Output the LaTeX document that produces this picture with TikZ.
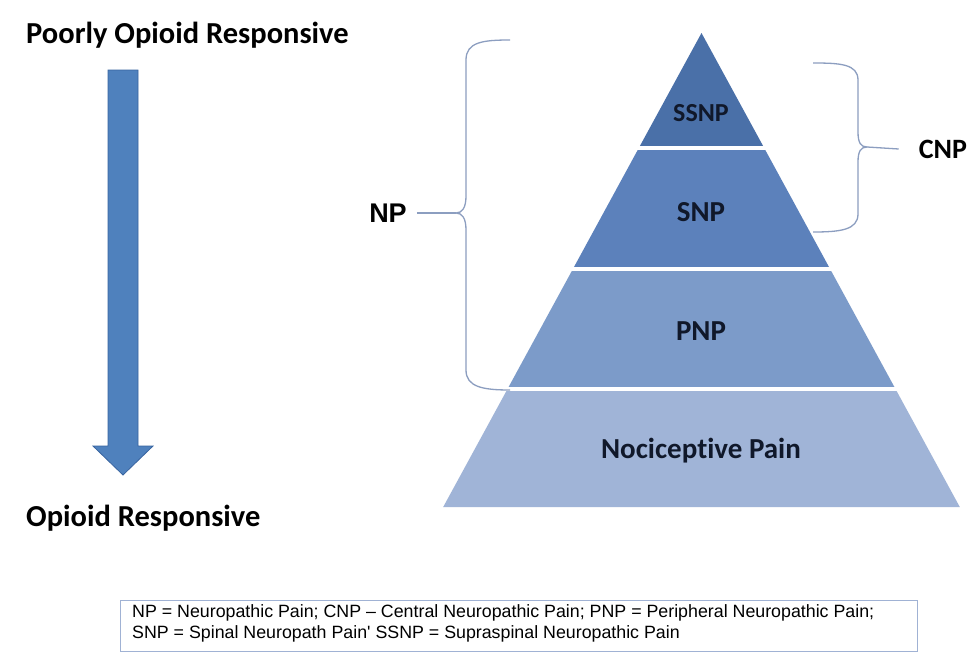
\documentclass[tikz,border=0pt]{standalone}
\usepackage{fontspec}
\setmainfont{Carlito}[Ligatures={TeX,NoCommon}]
\newfontfamily\arialfont{Liberation Sans}
\usetikzlibrary{calc}

\definecolor{ssnpfill}{RGB}{74,112,168}
\definecolor{snpfill}{RGB}{92,129,187}
\definecolor{pnpfill}{RGB}{124,155,201}
\definecolor{nocifill}{RGB}{160,180,215}
\definecolor{arrowfill}{RGB}{79,129,189}
\definecolor{arrowline}{RGB}{56,100,160}
\definecolor{bracecol}{RGB}{140,158,192}
\definecolor{labeltext}{RGB}{16,24,42}
\definecolor{legendline}{RGB}{160,178,212}

\tikzset{
  layer/.style={draw=none},
  gapline/.style={draw=white, line width=4pt},
  layerlabel/.style={text=labeltext, font=\bfseries\fontsize{29}{34}\selectfont, inner sep=0pt},
  headline/.style={text=black, font=\bfseries\fontsize{30.5}{36}\selectfont, inner sep=0pt, anchor=west},
  bracket/.style={draw=bracecol, line width=1.3pt, line join=round},
  sidelabel/.style={text=black, inner sep=0pt},
}

\begin{document}
\begin{tikzpicture}[x=1pt, y=-1pt]
  \useasboundingbox (0,0) rectangle (978,653);
  \fill[white] (0,0) rectangle (978,653);

  % headings on the left
  \node[headline] (poor) at (26,35) {Poorly Opioid Responsive};
  \node[headline] (resp) at (26,518) {Opioid Responsive};

  % downward block arrow
  \draw[fill=arrowfill, draw=arrowline, line width=0.8pt, line join=miter]
    (108,70) -- (138,70) -- (138,446) -- (153,446) -- (123,475)
    -- (93,446) -- (108,446) -- cycle;

  % pyramid layers (apex at 701.5,33)
  \fill[ssnpfill] (701.5,33) -- (764.2,148) -- (638.8,148) -- cycle;
  \fill[snpfill]  (638.8,148) -- (764.2,148) -- (830.1,269) -- (572.9,269) -- cycle;
  \fill[pnpfill]  (572.9,269) -- (830.1,269) -- (895.5,389) -- (507.5,389) -- cycle;
  \fill[nocifill] (507.5,389) -- (895.5,389) -- (959.8,507) -- (443.2,507) -- cycle;
  \draw[gapline] (636,148) -- (767,148);
  \draw[gapline] (570,269) -- (833,269);
  \draw[gapline] (505,389) -- (898,389);

  \node[layerlabel, font=\bfseries\fontsize{26}{30}\selectfont] (ssnp) at (701,113) {SSNP};
  \node[layerlabel] (snp)  at (701,212) {SNP};
  \node[layerlabel] (pnp)  at (701,331) {PNP};
  \node[layerlabel] (noci) at (701,451) {Nociceptive Pain};

  % NP bracket
  \node[sidelabel, font=\arialfont\bfseries\fontsize{27}{32}\selectfont] (np) at (388,213) {NP};
  \coordinate (npcusp) at (456,213);
  \draw[bracket] (510,40) .. controls (483,40) and (466,42) .. (466,60)
    -- (466,196) .. controls (466,208) and (462,213) .. (npcusp)
    .. controls (462,213) and (466,218) .. (466,230)
    -- (466,370) .. controls (466,387) and (483,390) .. (510,390);
  \draw[bracket] ([xshift=10pt]np.east) -- (npcusp);

  % CNP bracket
  \node[sidelabel, font=\bfseries\fontsize{28}{32}\selectfont] (cnp) at (943,149) {CNP};
  \coordinate (cnpcusp) at (867,147);
  \draw[bracket] (813,63) .. controls (840,63) and (858,64) .. (858,80)
    -- (858,132) .. controls (858,143) and (861,147) .. (cnpcusp)
    .. controls (861,147) and (858,151) .. (858,162)
    -- (858,214) .. controls (858,230) and (840,232) .. (813,232);
  \draw[bracket] (cnpcusp) -- ([xshift=-20pt]cnp.west);

  % legend
  \draw[legendline, line width=1pt] (120,600) rectangle (917,651);
  \node[anchor=west, align=left, inner sep=0pt, text=black,
        font=\arialfont\fontsize{17.8}{21}\selectfont] (legend) at (132,623)
    {NP = Neuropathic Pain; CNP – Central Neuropathic Pain; PNP = Peripheral Neuropathic Pain;\\
     SNP = Spinal Neuropath Pain' SSNP = Supraspinal Neuropathic Pain};
\end{tikzpicture}
\end{document}
